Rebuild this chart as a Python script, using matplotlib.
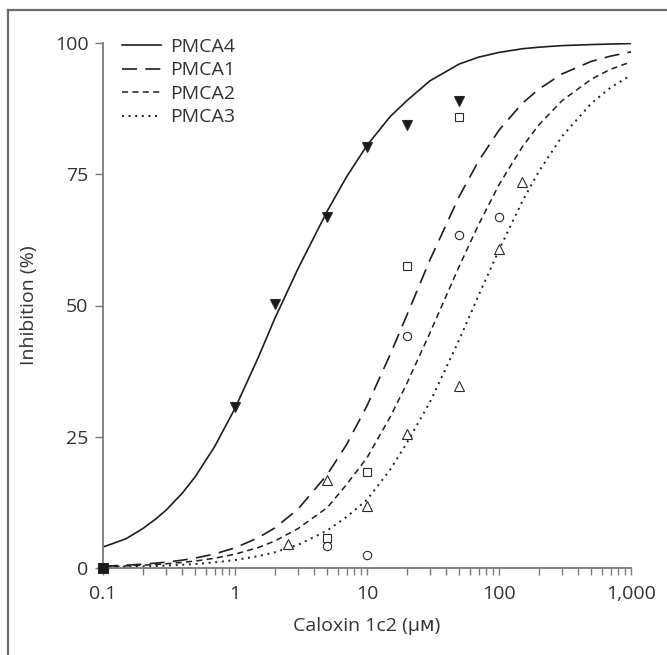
import matplotlib
matplotlib.use("Agg")
import matplotlib.pyplot as plt
from matplotlib.lines import Line2D

plt.rcParams['font.family'] = ['Open Sans', 'DejaVu Sans']

# fitted curves
curve_x = [0.1, 0.12, 0.15, 0.2, 0.25, 0.3, 0.4, 0.5, 0.7, 1, 1.5, 2, 3, 5,
           7, 10, 15, 20, 30, 50, 70, 100, 150, 200, 300, 500, 700, 1000]
pmca4_curve = [4.0, 4.7, 5.6, 7.5, 9.3, 11.0, 14.3, 17.4, 23.1, 30.4, 40.1,
               47.5, 57.0, 68.0, 74.5, 80.5, 86.0, 89.0, 92.8, 96.0, 97.3,
               98.2, 98.9, 99.2, 99.5, 99.7, 99.8, 99.9]
pmca1_curve = [0.35, 0.43, 0.54, 0.73, 0.92, 1.11, 1.50, 1.89, 2.67, 3.84,
               5.76, 7.63, 11.2, 17.8, 23.5, 30.9, 40.7, 48.1, 58.7, 70.8,
               77.5, 83.4, 88.5, 91.2, 94.1, 96.5, 97.5, 98.3]
pmca2_curve = [0.27, 0.32, 0.40, 0.54, 0.67, 0.80, 1.07, 1.33, 1.86, 2.63,
               3.90, 5.13, 7.5, 11.5, 15.9, 21.0, 28.8, 35.1, 44.8, 57.5,
               65.4, 73.0, 80.2, 84.4, 89.0, 93.1, 95.0, 96.4]
pmca3_curve = [0.15, 0.18, 0.23, 0.31, 0.38, 0.46, 0.61, 0.76, 1.07, 1.52,
               2.26, 2.99, 4.41, 7.14, 9.72, 13.0, 18.75, 23.8, 31.6, 43.5,
               51.9, 60.6, 69.8, 75.5, 82.2, 88.5, 91.5, 93.9]

# measured points
pmca4_x = [1, 2, 5, 10, 20, 50]
pmca4_y = [30.7, 50.3, 66.8, 80.1, 84.4, 89.0]
pmca1_x = [5, 10, 20, 50]
pmca1_y = [5.7, 18.2, 57.5, 86.0]
pmca2_x = [5, 10, 20, 50, 100]
pmca2_y = [4.2, 2.4, 44.2, 63.4, 66.8]
pmca3_x = [2.5, 5, 10, 20, 50, 100, 150]
pmca3_y = [4.5, 16.8, 11.8, 25.5, 34.7, 60.7, 73.5]
control_x = [0.1]
control_y = [0]

labels = ['PMCA4', 'PMCA1', 'PMCA2', 'PMCA3']
x_ticks = [0.1, 1, 10, 100, 1000]
x_ticklabels = ['0.1', '1', '10', '100', '1,000']
y_ticks = [0, 25, 50, 75, 100]

W, H = 667, 655
fs = 14
fig = plt.figure(figsize=(W / 100, H / 100), dpi=100)
ax = fig.add_axes([103 / W, 1 - 568 / H, 528 / W, 525 / H])

line_col = '#1e1e1e'
ax.plot(curve_x, pmca4_curve, color=line_col, lw=1.2, label=labels[0])
ax.plot(curve_x, pmca1_curve, color=line_col, lw=1.2,
        dashes=(9, 5), label=labels[1])
ax.plot(curve_x, pmca2_curve, color=line_col, lw=1.1,
        dashes=(4, 2.8), label=labels[2])
ax.plot(curve_x, pmca3_curve, color=line_col, lw=1.4,
        dashes=(1, 2.4), label=labels[3])

mk = dict(linestyle='none', markersize=6.5, markeredgewidth=0.8,
          markeredgecolor='#2a2a2a', clip_on=False, zorder=3)
ax.plot(pmca4_x, pmca4_y, marker='v', markerfacecolor='#1a1a1a', **mk)
ax.plot(pmca1_x, pmca1_y, marker='s', markerfacecolor='white',
        **{**mk, 'markersize': 6})
ax.plot(pmca2_x, pmca2_y, marker='o', markerfacecolor='white',
        **{**mk, 'markersize': 6})
ax.plot(pmca3_x, pmca3_y, marker='^', markerfacecolor='white', **mk)
ax.plot(control_x, control_y, marker='s', markerfacecolor='#1a1a1a',
        **{**mk, 'markersize': 7})

ax.set_xscale('log')
ax.set_xlim(0.1, 1000)
ax.set_ylim(0, 100)
ax.set_xticks(x_ticks)
ax.set_xticklabels(x_ticklabels)
ax.set_yticks(y_ticks)

for s in ['top', 'right']:
    ax.spines[s].set_visible(False)
for s in ['left', 'bottom']:
    ax.spines[s].set_color('#7a7a7a')
    ax.spines[s].set_linewidth(1.3)

ax.tick_params(axis='x', which='both', length=5, width=1, color='#7a7a7a',
               labelsize=fs, labelcolor='#333333', pad=7)
ax.tick_params(axis='y', length=5.5, width=1, color='#7a7a7a',
               labelsize=fs, labelcolor='#333333', pad=5)

ax.set_xlabel('Caloxin 1c2 (\u03bc\u1d0d)', fontsize=fs, color='#333333',
              labelpad=10)
ax.set_ylabel('Inhibition (%)', fontsize=fs, color='#333333', labelpad=12)

leg = ax.legend(loc='upper left', bbox_to_anchor=(122 / W, 1 - 38 / H),
                bbox_transform=fig.transFigure, frameon=False, fontsize=fs,
                handlelength=2.0, handletextpad=0.5, labelspacing=0.28,
                borderpad=0, borderaxespad=0)
for t in leg.get_texts():
    t.set_color('#333333')

# grey frame cut off at right and bottom
fig.add_artist(Line2D([8 / W, 1], [1 - 10 / H, 1 - 10 / H],
                      transform=fig.transFigure, color='#6a6a6a', lw=1.6))
fig.add_artist(Line2D([8 / W, 8 / W], [0, 1 - 10 / H],
                      transform=fig.transFigure, color='#6a6a6a', lw=1.6))

fig.savefig('out.png', dpi=100)
